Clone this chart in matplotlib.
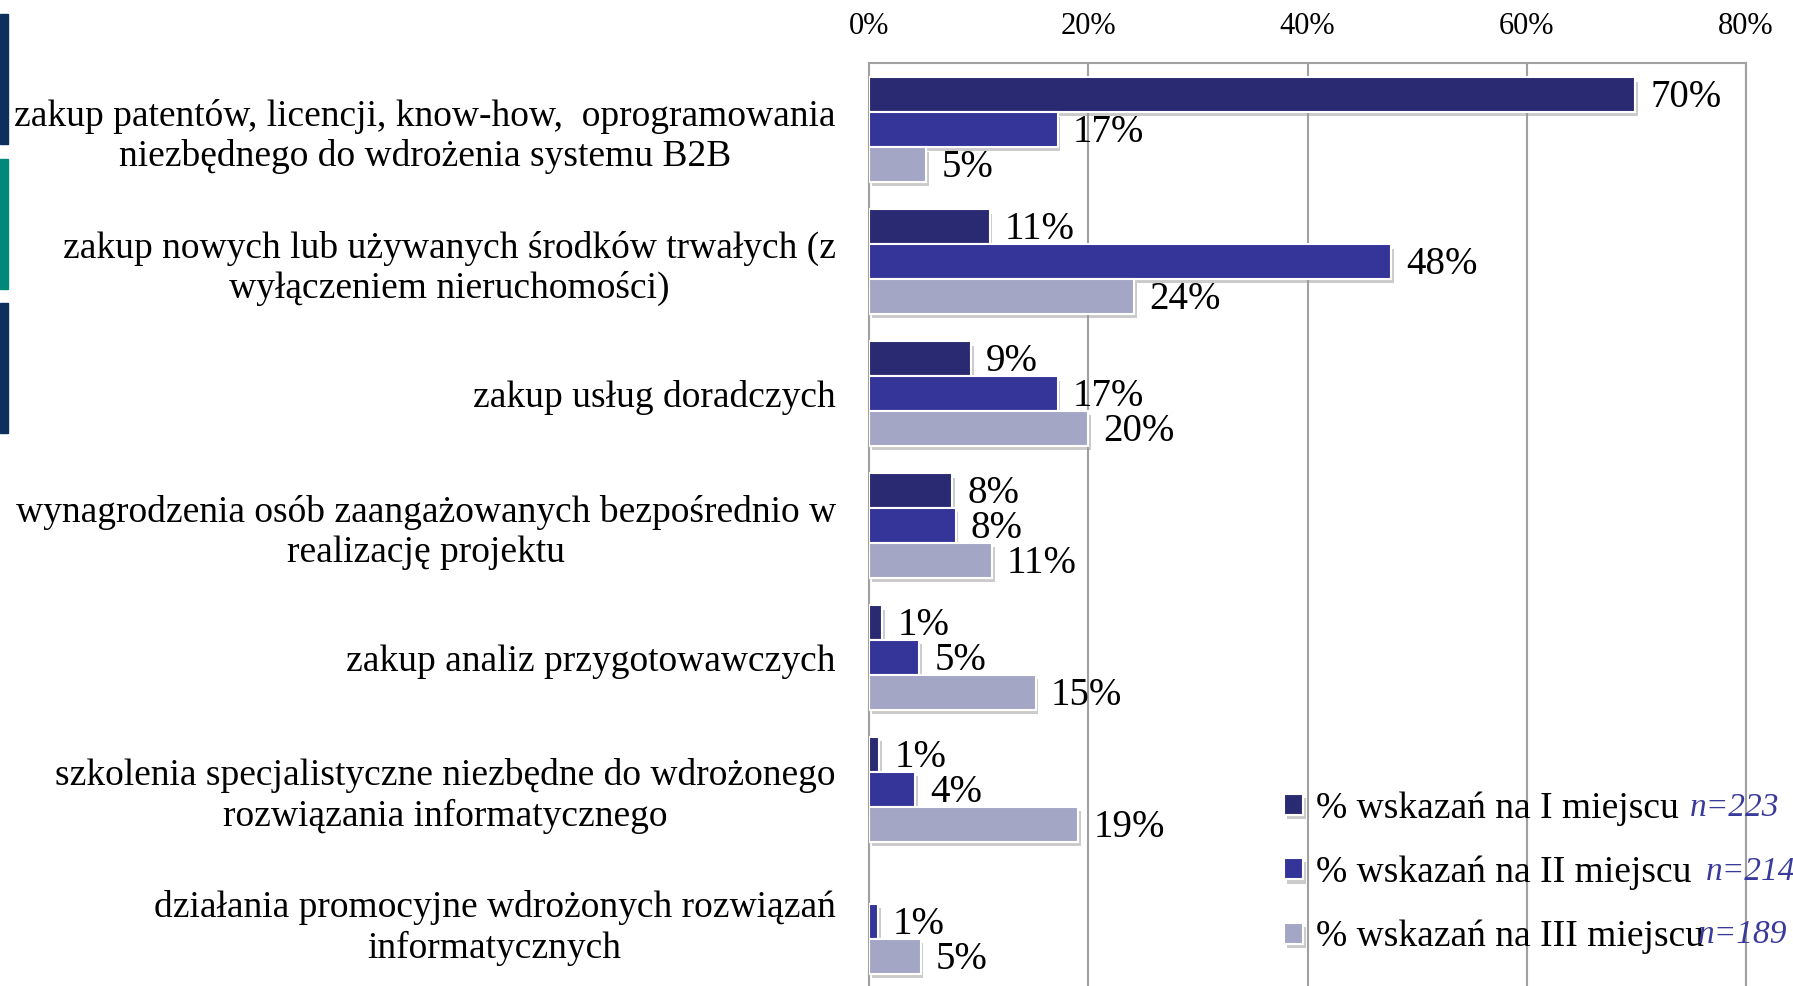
import matplotlib
matplotlib.use("Agg")
import matplotlib.pyplot as plt
import matplotlib.patheffects as pe
from matplotlib.patches import Rectangle
import numpy as np

plt.rcParams['font.family'] = ['Liberation Serif', 'DejaVu Serif']

categories = [
    "zakup patentów, licencji, know-how,  oprogramowania\nniezbędnego do wdrożenia systemu B2B",
    "zakup nowych lub używanych środków trwałych (z\nwyłączeniem nieruchomości)",
    "zakup usług doradczych",
    "wynagrodzenia osób zaangażowanych bezpośrednio w\nrealizację projektu",
    "zakup analiz przygotowawczych",
    "szkolenia specjalistyczne niezbędne do wdrożonego\nrozwiązania informatycznego",
    "działania promocyjne wdrożonych rozwiązań\ninformatycznych",
]
series_names = ["% wskazań na I miejscu", "% wskazań na II miejscu", "% wskazań na III miejscu"]
n_labels = ["n=223", "n=214", "n=189"]
place_1 = [69.9, 11.0, 9.3, 7.6, 1.2, 0.9, 0.0]
place_2 = [17.2, 47.6, 17.2, 7.9, 4.6, 4.2, 0.8]
place_3 = [5.2, 24.2, 20.0, 11.2, 15.2, 19.1, 4.7]
xticks = [0, 20, 40, 60, 80]

colors = ["#2a2a72", "#343499", "#a4a6c6"]

W, H = 1793, 986
fig = plt.figure(figsize=(W / 100, H / 100), dpi=100)
ax = fig.add_axes([869 / W, 0, (1746 - 869) / W, 923 / H])

y = np.arange(len(categories))
h = 0.26
off = 0.265
shadow = [pe.SimplePatchShadow(offset=(2, -3), shadow_rgbFace="#999999", alpha=0.5), pe.Normal()]
for k, vals in enumerate([place_1, place_2, place_3]):
    pos = y + (k - 1) * off
    bars = ax.barh(pos, vals, height=h, color=colors[k], edgecolor="white",
                   linewidth=1.5, label=series_names[k], zorder=3)
    for b, v in zip(bars, vals):
        b.set_path_effects(shadow)
        if v == 0:
            b.set_visible(False)
    for p, v in zip(pos, vals):
        if v > 0:
            ax.annotate(f"{v:.0f}%", (v, p), xytext=(11, -2), textcoords="offset points",
                        va="center", ha="left", fontsize=28, zorder=4)

ax.set_xlim(0, 80)
ax.set_ylim(6.489, -0.504)
ax.set_xticks(xticks)
ax.set_xticklabels([f"{t}%" for t in xticks], fontsize=22)
ax.xaxis.tick_top()
ax.tick_params(axis="x", length=0, pad=16)
ax.set_yticks(y)
ax.set_yticklabels(categories, fontsize=27, multialignment="center")
ax.tick_params(axis="y", length=0, pad=24)
ax.grid(axis="x", color="#a0a0a0", linewidth=1.5, zorder=0)
for s in ["left", "top", "right"]:
    ax.spines[s].set_color("#a0a0a0")
    ax.spines[s].set_linewidth(1.5)
ax.spines["bottom"].set_visible(False)

leg = ax.legend(loc="upper left", bbox_to_anchor=(1284 / W, 1 - 791 / H), bbox_transform=fig.transFigure,
                frameon=False, fontsize=27, handlelength=0.5, handleheight=0.5,
                handletextpad=0.35, labelspacing=0.8, borderaxespad=0, borderpad=0)

n_x = [1690, 1706, 1698]
n_y = [808, 872, 935]
for lab, nx, ny in zip(n_labels, n_x, n_y):
    fig.text(nx / W, 1 - ny / H, lab, fontsize=24, style="italic", color="#3a3a9a",
             ha="left", va="center")

# decorative strips on the left edge
for top, bot, c in [(14, 144, "#0d2f5e"), (159, 289, "#00897a"), (303, 433, "#0d2f5e")]:
    fig.patches.append(Rectangle((0, 1 - bot / H), 8 / W, (bot - top) / H,
                                 transform=fig.transFigure, color=c))

fig.savefig("out.png", dpi=100)
